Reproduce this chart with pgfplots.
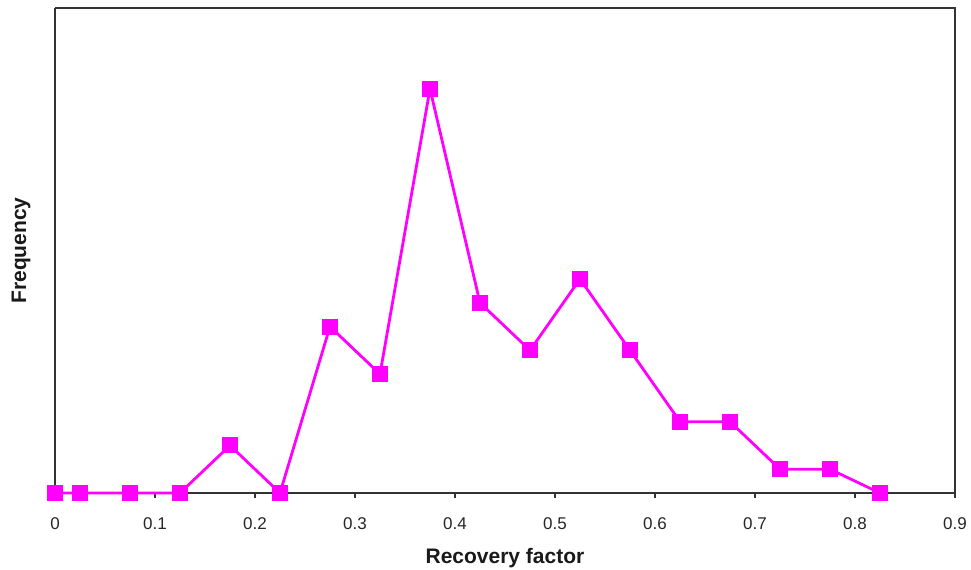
\documentclass[border=0pt]{standalone}
\usepackage{pgfplots}
\pgfplotsset{compat=1.18}
\usepackage{fontspec}
\setmainfont{Liberation Sans}
\definecolor{mag}{RGB}{255,0,255}
\begin{document}
\begin{tikzpicture}
\path[use as bounding box] (-55bp,-77bp) rectangle (916bp,493bp);
\begin{axis}[
  scale only axis,
  width=900bp, height=485bp,
  xmin=0, xmax=0.9, ymin=0, ymax=20.4,
  xtick={0,0.1,...,0.9},
  xticklabels={0,0.1,0.2,0.3,0.4,0.5,0.6,0.7,0.8,0.9},
  ytick=\empty,
  axis x line*=bottom,
  axis y line*=left,
  tick align=outside,
  xtick pos=bottom,
  major tick length=5bp,
  axis line style={line width=1.8bp, black!80},
  every tick/.style={line width=1.5bp, black!80},
  tick label style={font=\fontsize{17bp}{19bp}\selectfont, text=black!85},
  xticklabel style={yshift=-16bp},
  /pgf/number format/assume math mode=true,
  xlabel={\textbf{Recovery factor}},
  ylabel={\textbf{Frequency}},
  xlabel style={font=\fontsize{21bp}{23bp}\selectfont, text=black!90, at={(axis description cs:0.5,0)}, anchor=center, yshift=-65bp},
  ylabel style={font=\fontsize{21bp}{23bp}\selectfont, text=black!90, at={(axis description cs:0,0.5)}, anchor=center, yshift=34bp},
  clip=false,
]
\addplot[color=mag, line width=2.8bp, mark=square*, mark size=7.5bp, mark options={solid, fill=mag, draw=mag, line width=0pt}]
coordinates {
(0,0) (0.025,0) (0.075,0) (0.125,0) (0.175,2) (0.225,0) (0.275,7) (0.325,5)
(0.375,17) (0.425,8) (0.475,6) (0.525,9) (0.575,6) (0.625,3) (0.675,3)
(0.725,1) (0.775,1) (0.825,0)
};
\end{axis}
\draw[line width=1.8bp, black!80] (0,485bp) -- (900bp,485bp) -- (900bp,0);
\end{tikzpicture}
\end{document}
